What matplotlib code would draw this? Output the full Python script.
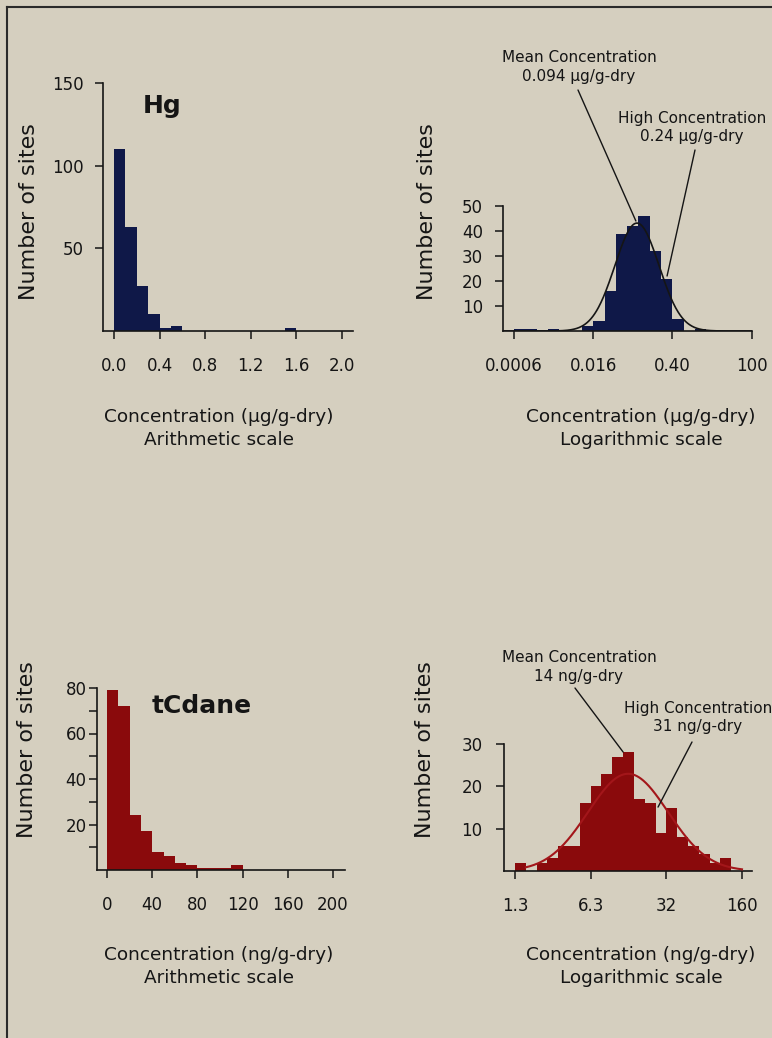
import numpy as np
import matplotlib
matplotlib.use("Agg")
import matplotlib.pyplot as plt
from matplotlib.lines import Line2D
from matplotlib.ticker import NullLocator, FixedLocator

# ---------------- data ----------------
# Hg, arithmetic histogram (bin width 0.1 ug/g, starting at 0)
hg_lin_start = 0.0
hg_lin_bin = 0.1
hg_lin_counts = [110, 63, 27, 10, 2, 3, 0, 0, 0, 0, 0, 0, 0, 0, 0, 2]

# Hg, logarithmic histogram (bins of 0.2 log10 units starting at 10^-3.2)
hg_log_start = -3.2
hg_log_bin = 0.2
hg_log_counts = [1, 1, 0, 1, 0, 0, 2, 4, 16, 39, 42, 46, 32, 21, 5, 0, 1]
hg_mean = 0.094
hg_high = 0.24
hg_log_sd = 0.39

hg_lin_ticks = [0.0, 0.4, 0.8, 1.2, 1.6, 2.0]
hg_lin_ticklabels = ["0.0", "0.4", "0.8", "1.2", "1.6", "2.0"]
hg_lin_yticks = [50, 100, 150]
hg_log_ticks = [10**-3.2, 10**-1.8, 10**-0.4, 10**1.0]
hg_log_ticklabels = ["0.0006", "0.016", "0.40", "100"]
hg_log_yticks = [10, 20, 30, 40, 50]

# tCdane, arithmetic histogram (bin width 10 ng/g)
tc_lin_start = 0.0
tc_lin_bin = 10.0
tc_lin_counts = [79, 72, 24, 17, 8, 6, 3, 2, 1, 1, 1, 2]

# tCdane, logarithmic histogram (bins of 0.1 log10 units starting at 10^0.1)
tc_log_start = 0.1
tc_log_bin = 0.1
tc_log_counts = [2, 0, 2, 3, 6, 6, 16, 20, 23, 27, 28, 17, 16, 9, 15, 8, 6, 4, 2, 3]
tc_mean = 14.0
tc_high = 31.0
tc_log_sd = 0.37

tc_lin_ticks = [0, 40, 80, 120, 160, 200]
tc_lin_ticklabels = ["0", "40", "80", "120", "160", "200"]
tc_lin_yticks = [20, 40, 60, 80]
tc_lin_yminor = [10, 30, 50, 70]
tc_log_ticks = [10**0.1, 10**0.8, 10**1.5, 10**2.2]
tc_log_ticklabels = ["1.3", "6.3", "32", "160"]
tc_log_yticks = [10, 20, 30]

# ---------------- style ----------------
W, H = 772, 1038
BG = "#d5cfbf"
NAVY = "#0f1848"
RED = "#8a0a0c"
RED_LINE = "#a3161a"
INK = "#151515"

plt.rcParams["font.family"] = ["DejaVu Sans"]

fig = plt.figure(figsize=(W / 100, H / 100), dpi=100)
fig.patch.set_facecolor(BG)


def px_axes(l, r, b, t):
    return fig.add_axes([l / W, 1 - b / H, (r - l) / W, (b - t) / H])


def fx(x):
    return x / W


def fy(y):
    return 1 - y / H


def style(ax, ypad, xpad=13.5):
    ax.set_facecolor("none")
    for s in ("top", "right"):
        ax.spines[s].set_visible(False)
    for s in ("left", "bottom"):
        ax.spines[s].set_linewidth(1.2)
        ax.spines[s].set_color(INK)
    ax.tick_params(axis="both", which="both", direction="out", length=5.5,
                   width=1.1, color=INK, labelsize=12, labelcolor=INK)
    ax.tick_params(axis="y", pad=ypad)
    ax.tick_params(axis="x", pad=xpad)


def log_edges(start, width, n):
    return 10 ** (start + width * np.arange(n + 1))


def fit_curve(ax, counts, width, mean, sd, lo, hi, color, lw):
    n = sum(counts)
    lx = np.linspace(lo, hi, 400)
    mu = np.log10(mean)
    y = n * width * np.exp(-0.5 * ((lx - mu) / sd) ** 2) / (np.sqrt(2 * np.pi) * sd)
    ax.plot(10 ** lx, y, color=color, lw=lw, zorder=3)


def annotate(ax, text, xy, text_px, line_start_px):
    fig.text(fx(text_px[0]), fy(text_px[1]), text, ha="center", va="center",
             fontsize=11, color=INK, multialignment="center", linespacing=1.25)
    ax.annotate("", xy=xy, xycoords="data",
                xytext=(fx(line_start_px[0]), fy(line_start_px[1])),
                textcoords="figure fraction",
                arrowprops=dict(arrowstyle="-", color=INK, lw=1.0,
                                shrinkA=0, shrinkB=0),
                annotation_clip=False)


# ---------- top-left: Hg arithmetic ----------
ax1 = px_axes(103, 353, 331, 83)
e1 = hg_lin_start + hg_lin_bin * np.arange(len(hg_lin_counts) + 1)
ax1.stairs(hg_lin_counts, e1, fill=True, color=NAVY, zorder=2)
ax1.set_xlim(-0.096, 2.096)
ax1.set_ylim(0, 150)
ax1.set_xticks(hg_lin_ticks)
ax1.set_xticklabels(hg_lin_ticklabels)
ax1.set_yticks(hg_lin_yticks)
style(ax1, ypad=8)
fig.text(fx(143), fy(113), "Hg", fontsize=18, fontweight="bold",
         color=INK, ha="left", va="baseline")

# ---------- top-right: Hg logarithmic ----------
ax2 = px_axes(503, 752, 331, 206)
ax2.set_xscale("log")
e2 = log_edges(hg_log_start, hg_log_bin, len(hg_log_counts))
ax2.stairs(hg_log_counts, e2, fill=True, color=NAVY, zorder=2)
fit_curve(ax2, hg_log_counts, hg_log_bin, hg_mean, hg_log_sd, -3.39, 1.0, INK, 1.2)
ax2.set_xlim(10**-3.394, 10**1.006)
ax2.set_ylim(0, 50)
ax2.xaxis.set_major_locator(FixedLocator(hg_log_ticks))
ax2.xaxis.set_minor_locator(NullLocator())
ax2.set_xticklabels(hg_log_ticklabels)
ax2.set_yticks(hg_log_yticks)
style(ax2, ypad=9)
annotate(ax2, "Mean Concentration\n0.094 \u00b5g/g-dry", (0.09, 44), (579, 67), (578, 90))
annotate(ax2, "High Concentration\n0.24 \u00b5g/g-dry", (0.32, 22), (692, 127), (695, 150))

# ---------- bottom-left: tCdane arithmetic ----------
ax3 = px_axes(97, 345, 870, 688)
e3 = tc_lin_start + tc_lin_bin * np.arange(len(tc_lin_counts) + 1)
ax3.stairs(tc_lin_counts, e3, fill=True, color=RED, zorder=2)
ax3.set_xlim(-8.85, 210.6)
ax3.set_ylim(0, 80)
ax3.set_xticks(tc_lin_ticks)
ax3.set_xticklabels(tc_lin_ticklabels)
ax3.set_yticks(tc_lin_yticks)
ax3.yaxis.set_minor_locator(FixedLocator(tc_lin_yminor))
style(ax3, ypad=2)
fig.text(fx(152), fy(713), "tCdane", fontsize=18, fontweight="bold",
         color=INK, ha="left", va="baseline")

# ---------- bottom-right: tCdane logarithmic ----------
ax4 = px_axes(504, 752, 871, 744)
ax4.set_xscale("log")
e4 = log_edges(tc_log_start, tc_log_bin, len(tc_log_counts))
ax4.stairs(tc_log_counts, e4, fill=True, color=RED, zorder=2)
fit_curve(ax4, tc_log_counts, tc_log_bin, tc_mean, tc_log_sd, 0.2, 2.2, RED_LINE, 1.5)
ax4.set_xlim(10**-0.0018, 10**2.2925)
ax4.set_ylim(0, 30)
ax4.xaxis.set_major_locator(FixedLocator(tc_log_ticks))
ax4.xaxis.set_minor_locator(NullLocator())
ax4.set_xticklabels(tc_log_ticklabels)
ax4.set_yticks(tc_log_yticks)
style(ax4, ypad=10)
annotate(ax4, "Mean Concentration\n14 ng/g-dry", (12.6, 28.1), (579, 667), (575, 688))
annotate(ax4, "High Concentration\n31 ng/g-dry", (26.5, 15.1), (698, 718), (692, 742))

# ---------- axis titles ----------
for x, y in [(29, 212), (427, 212), (27, 750), (425, 750)]:
    fig.text(fx(x), fy(y), "Number of sites", rotation=90, fontsize=16,
             color=INK, ha="center", va="center")

xlabels = [
    (219, "Concentration (\u00b5g/g-dry)", "Arithmetic scale", 417),
    (641, "Concentration (\u00b5g/g-dry)", "Logarithmic scale", 417),
    (219, "Concentration (ng/g-dry)", "Arithmetic scale", 955),
    (641, "Concentration (ng/g-dry)", "Logarithmic scale", 955),
]
for x, l1, l2, y in xlabels:
    fig.text(fx(x), fy(y), l1, fontsize=13.3, color=INK, ha="center", va="center")
    fig.text(fx(x), fy(y + 23), l2, fontsize=13.3, color=INK, ha="center", va="center")

# ---------- page frame ----------
fig.add_artist(Line2D([fx(7), fx(7)], [0, fy(7)], transform=fig.transFigure,
                      color="#2a2a2a", lw=1.5))
fig.add_artist(Line2D([fx(7), 1], [fy(7), fy(7)], transform=fig.transFigure,
                      color="#2a2a2a", lw=1.5))

fig.savefig("out.png", dpi=100, facecolor=BG)
